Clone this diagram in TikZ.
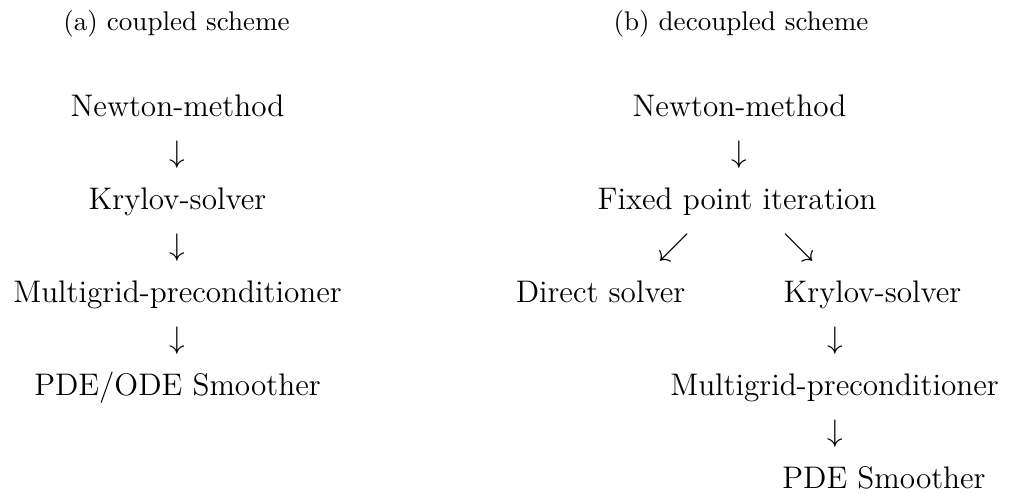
\documentclass[tikz,border=0pt]{standalone}
\begin{document}
\begin{tikzpicture}[x=0.38462pt,y=-0.38462pt,
  lbl/.style={anchor=base,inner sep=0pt,font=\fontsize{12}{14}\selectfont},
  captext/.style={anchor=base,inner sep=0pt,font=\fontsize{10.4}{12}\selectfont}]
\useasboundingbox (0,0) rectangle (1011,493);
% captions
\node[captext] (capa) at (176.5,30) {(a) coupled scheme};
\node[captext] (capb) at (741,30) {(b) decoupled scheme};
% coupled scheme
\node[lbl] (ln) at (177.5,116) {Newton-method};
\node[lbl] (la1) at (177.5,162.5) {$\downarrow$};
\node[lbl] (lk) at (177.5,209) {Krylov-solver};
\node[lbl] (la2) at (177.5,255.5) {$\downarrow$};
\node[lbl] (lm) at (177.5,302) {Multigrid-preconditioner};
\node[lbl] (la3) at (177.5,348.5) {$\downarrow$};
\node[lbl] (lp) at (177.5,395) {PDE/ODE Smoother};
% decoupled scheme
\node[lbl] (rn) at (739.5,116) {Newton-method};
\node[lbl] (ra1) at (739.5,162.5) {$\downarrow$};
\node[lbl] (rf) at (737,209) {Fixed point iteration};
\node[lbl] (ra2) at (674.5,255.5) {$\swarrow$};
\node[lbl] (ra3) at (799,255.5) {$\searrow$};
\node[lbl] (rd) at (600.5,302) {Direct solver};
\node[lbl] (rk) at (872.5,302) {Krylov-solver};
\node[lbl] (ra4) at (835,348.5) {$\downarrow$};
\node[lbl] (rm) at (834.5,395) {Multigrid-preconditioner};
\node[lbl] (ra5) at (835,441.5) {$\downarrow$};
\node[lbl] (rp) at (884,488) {PDE Smoother};
\end{tikzpicture}
\end{document}
